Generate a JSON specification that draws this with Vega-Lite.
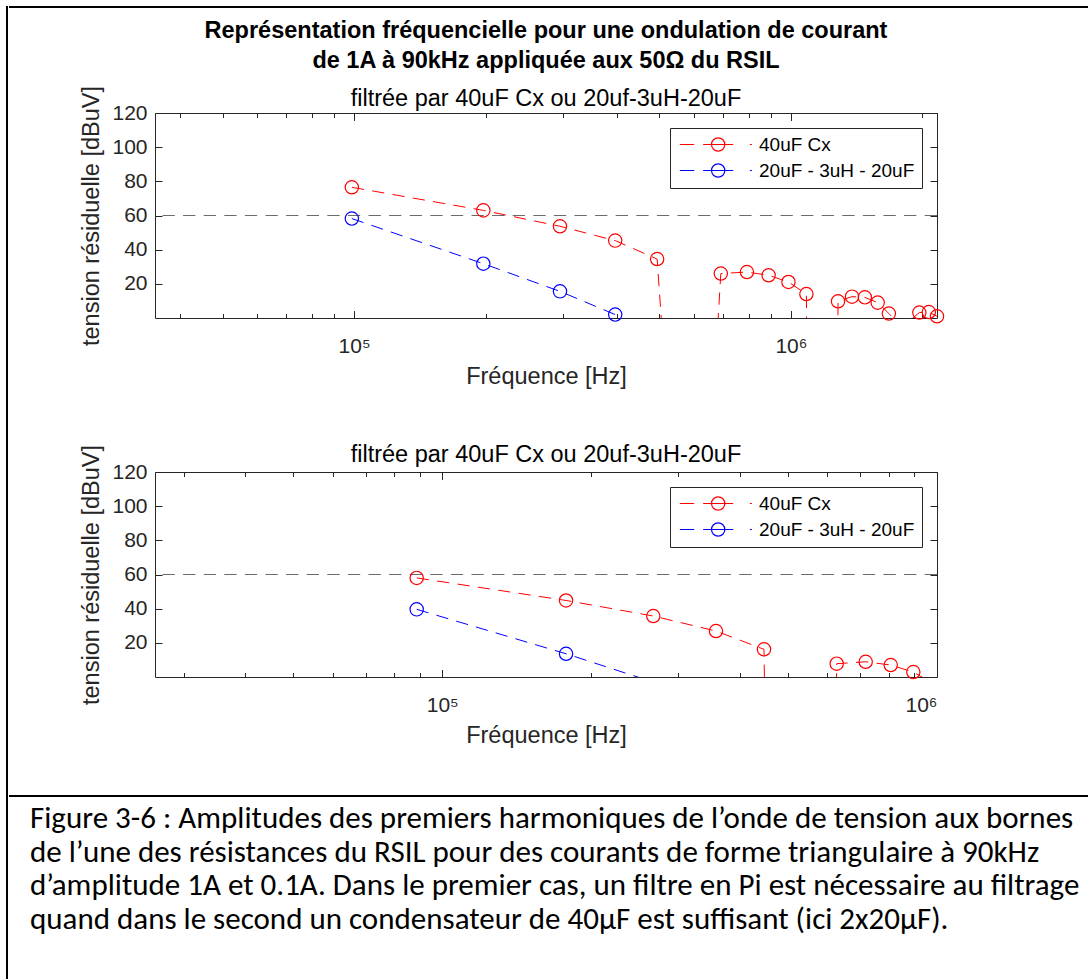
{
  "$schema": "https://vega.github.io/schema/vega-lite/v6.json",
  "background": "white",
  "padding": {"left": 6, "top": 6, "right": 0, "bottom": 0},
  "datasets": {
    "seuil": [{"seuil": 60}],
    "haut": [
      {"serie": "40uF Cx", "f": 98800, "v": 76.5},
      {"serie": "40uF Cx", "f": 197600, "v": 63.0},
      {"serie": "40uF Cx", "f": 296000, "v": 53.7},
      {"serie": "40uF Cx", "f": 396000, "v": 45.3},
      {"serie": "40uF Cx", "f": 494000, "v": 34.5},
      {"serie": "40uF Cx", "f": 594000, "v": -260},
      {"serie": "40uF Cx", "f": 691000, "v": 26.0},
      {"serie": "40uF Cx", "f": 793000, "v": 26.9},
      {"serie": "40uF Cx", "f": 889000, "v": 25.0},
      {"serie": "40uF Cx", "f": 987000, "v": 21.1},
      {"serie": "40uF Cx", "f": 1085000, "v": 14.0},
      {"serie": "40uF Cx", "f": 1188000, "v": -1500},
      {"serie": "40uF Cx", "f": 1282000, "v": 9.8},
      {"serie": "40uF Cx", "f": 1380000, "v": 12.5},
      {"serie": "40uF Cx", "f": 1477000, "v": 12.1},
      {"serie": "40uF Cx", "f": 1580000, "v": 9.0},
      {"serie": "40uF Cx", "f": 1676000, "v": 2.6},
      {"serie": "40uF Cx", "f": 1782000, "v": -5},
      {"serie": "40uF Cx", "f": 1881000, "v": -1},
      {"serie": "40uF Cx", "f": 1968000, "v": 3.2},
      {"serie": "40uF Cx", "f": 2069000, "v": 3.5},
      {"serie": "40uF Cx", "f": 2160000, "v": 1.0},
      {"serie": "20uF - 3uH - 20uF", "f": 98800, "v": 58.2},
      {"serie": "20uF - 3uH - 20uF", "f": 197600, "v": 31.8},
      {"serie": "20uF - 3uH - 20uF", "f": 296000, "v": 15.6},
      {"serie": "20uF - 3uH - 20uF", "f": 396000, "v": 2.0}
    ],
    "bas": [
      {"serie": "40uF Cx", "f": 88770, "v": 58.0},
      {"serie": "40uF Cx", "f": 177900, "v": 44.8},
      {"serie": "40uF Cx", "f": 267000, "v": 35.7},
      {"serie": "40uF Cx", "f": 357500, "v": 26.9},
      {"serie": "40uF Cx", "f": 447000, "v": 16.2},
      {"serie": "40uF Cx", "f": 537000, "v": -1500},
      {"serie": "40uF Cx", "f": 627000, "v": 7.8},
      {"serie": "40uF Cx", "f": 717600, "v": 8.9},
      {"serie": "40uF Cx", "f": 806300, "v": 7.0},
      {"serie": "40uF Cx", "f": 895600, "v": 2.9},
      {"serie": "40uF Cx", "f": 985000, "v": -4},
      {"serie": "20uF - 3uH - 20uF", "f": 88770, "v": 39.6},
      {"serie": "20uF - 3uH - 20uF", "f": 177900, "v": 13.6},
      {"serie": "20uF - 3uH - 20uF", "f": 267000, "v": -3}
    ],
    "legende": [
      {"ligne": 1, "texte": "Figure 3-6 : Amplitudes des premiers harmoniques de l’onde de tension aux bornes"},
      {"ligne": 2, "texte": "de l’une des résistances du RSIL pour des courants de forme triangulaire à 90kHz"},
      {"ligne": 3, "texte": "d’amplitude 1A et 0.1A. Dans le premier cas, un filtre en Pi est nécessaire au filtrage"},
      {"ligne": 4, "texte": "quand dans le second un condensateur de 40µF est suffisant (ici 2x20µF)."}
    ]
  },
  "config": {
    "view": {"stroke": null},
    "font": "Liberation Sans",
    "axis": {
      "grid": false, "domain": false,
      "labelFont": "Liberation Sans", "titleFont": "Liberation Sans",
      "labelColor": "#262626", "titleColor": "#262626", "tickColor": "#262626",
      "tickWidth": 1, "labelFontSize": 21, "titleFontSize": 23.5, "titleFontWeight": "normal"
    },
    "title": {"font": "Liberation Sans", "color": "black", "subtitleFont": "Liberation Sans", "subtitleColor": "black", "frame": "group"}
  },
  "spacing": 0,
  "hconcat": [
    {
      "width": 2, "height": 1000,
      "view": {"fill": "black", "stroke": null},
      "data": {"values": [{}]},
      "mark": {"type": "point", "size": 0, "strokeWidth": 0, "opacity": 0},
      "encoding": {}
    },
    {
      "spacing": 48,
      "vconcat": [
        {
          "spacing": 10,
          "vconcat": [
            {
              "width": 933, "height": 2,
              "data": {"values": [{}]},
              "mark": {"type": "rule", "color": "black", "strokeWidth": 2},
              "encoding": {
                "x": {"datum": -146, "type": "quantitative", "scale": {"domain": [0, 933], "nice": false, "zero": false}, "axis": null},
                "x2": {"datum": 933},
                "y": {"datum": 1, "type": "quantitative", "scale": {"domain": [0, 2], "nice": false}, "axis": null}
              }
            },
            {
              "spacing": 52,
              "resolve": {"scale": {"color": "independent", "stroke": "independent"}, "legend": {"color": "independent", "stroke": "independent"}},
              "vconcat": [
                {
                  "width": 782, "height": 205,
                  "view": {"stroke": "#262626", "strokeWidth": 1},
                  "title": {
                    "text": ["Représentation fréquencielle pour une ondulation de courant", "de 1A à 90kHz appliquée aux 50Ω du RSIL"],
                    "subtitle": "filtrée par 40uF Cx ou 20uf-3uH-20uF",
                    "fontSize": 23.5, "fontWeight": "bold", "lineHeight": 30,
                    "subtitleFontSize": 23.5, "subtitleFontWeight": "normal", "subtitlePadding": 15,
                    "offset": -25, "frame": "group"
                  },
                  "layer": [
                    {
                      "data": {"name": "seuil"},
                      "mark": {"type": "rule", "color": "#6b6b6b", "strokeDash": [12.3, 8.3], "strokeWidth": 1},
                      "encoding": {
                        "y": {"field": "seuil", "type": "quantitative", "scale": {"domain": [0, 120], "nice": false, "zero": false},
                              "axis": {"orient": "right", "values": [20, 40, 60, 80, 100, 120], "labels": false, "tickSize": -7, "title": null, "minExtent": 0, "maxExtent": 0}}
                      }
                    },
                    {
                      "data": {"name": "haut"},
                      "mark": {"type": "line", "clip": true, "strokeDash": [12.3, 8.3], "strokeWidth": 1},
                      "encoding": {
                        "x": {"field": "f", "type": "quantitative", "scale": {"type": "log", "domain": [35000, 2160000], "nice": false},
                              "axis": {"orient": "bottom", "values": [100000, 1000000], "labelExpr": "datum.value == 100000 ? '10⁵' : '10⁶'", "ticks": false, "labelBaseline": "alphabetic", "labelPadding": 34, "title": "Fréquence [Hz]", "titlePadding": 8}},
                        "y": {"field": "v", "type": "quantitative", "scale": {"domain": [0, 120], "nice": false, "zero": false},
                              "axis": {"orient": "left", "values": [20, 40, 60, 80, 100, 120], "ticks": false, "labelPadding": 8, "title": "tension résiduelle [dBuV]", "titlePadding": 8, "minExtent": 0}},
                        "stroke": {"field": "serie", "type": "nominal", "scale": {"domain": ["20uF - 3uH - 20uF", "40uF Cx"], "range": ["#0000ff", "#ff0000"]}, "legend": null}
                      }
                    },
                    {
                      "data": {"name": "haut"},
                      "transform": [{"filter": "datum.v >= 0"}],
                      "mark": {"type": "point", "filled": false, "size": 177, "strokeWidth": 1.2, "opacity": 1, "clip": false},
                      "encoding": {
                        "x": {"field": "f", "type": "quantitative", "scale": {"type": "log", "domain": [35000, 2160000], "nice": false},
                              "axis": {"orient": "bottom", "values": [100000, 1000000], "labels": false, "tickSize": -7.5, "title": null, "minExtent": 0, "maxExtent": 0}},
                        "y": {"field": "v", "type": "quantitative", "scale": {"domain": [0, 120], "nice": false, "zero": false},
                              "axis": {"orient": "left", "values": [20, 40, 60, 80, 100, 120], "labels": false, "tickSize": -7, "title": null, "minExtent": 0, "maxExtent": 0}},
                        "color": {"field": "serie", "type": "nominal", "scale": {"domain": ["40uF Cx", "20uF - 3uH - 20uF"], "range": ["#ff0000", "#0000ff"]},
                          "legend": {"title": null, "orient": "top-right", "offset": 15,
                            "symbolType": "M-1,0H1.15M2.5,0H7.02M9.53,0H9.83M5.76,0A1,1 0 1 1 3.76,0A1,1 0 1 1 5.76,0",
                            "symbolSize": 177, "symbolStrokeWidth": 1.2, "symbolFillColor": "transparent",
                            "labelFont": "Liberation Sans", "labelFontSize": 19, "labelColor": "black", "labelOffset": 63, "labelLimit": 400,
                            "padding": 7, "rowPadding": 6, "strokeColor": "#262626", "fillColor": "white"}}
                      }
                    },
                    {
                      "data": {"name": "haut"},
                      "transform": [{"filter": "datum.v >= 0"}],
                      "mark": {"type": "point", "opacity": 0, "clip": true},
                      "encoding": {
                        "x": {"field": "f", "type": "quantitative", "scale": {"type": "log", "domain": [35000, 2160000], "nice": false},
                              "axis": {"orient": "bottom", "values": [40000, 50000, 60000, 70000, 80000, 90000, 200000, 300000, 400000, 500000, 600000, 700000, 800000, 900000, 2000000], "labels": false, "tickSize": -4.5, "title": null, "minExtent": 0, "maxExtent": 0}},
                        "y": {"field": "v", "type": "quantitative", "scale": {"domain": [0, 120], "nice": false, "zero": false}, "axis": null}
                      }
                    },
                    {
                      "data": {"name": "haut"},
                      "transform": [{"filter": "datum.v >= 0"}],
                      "mark": {"type": "point", "opacity": 0, "clip": true},
                      "encoding": {
                        "x": {"field": "f", "type": "quantitative", "scale": {"type": "log", "domain": [35000, 2160000], "nice": false},
                              "axis": {"orient": "top", "values": [100000, 1000000], "labels": false, "tickSize": -7.5, "title": null, "minExtent": 0, "maxExtent": 0}},
                        "y": {"field": "v", "type": "quantitative", "scale": {"domain": [0, 120], "nice": false, "zero": false}, "axis": null}
                      }
                    },
                    {
                      "data": {"name": "haut"},
                      "transform": [{"filter": "datum.v >= 0"}],
                      "mark": {"type": "point", "opacity": 0, "clip": true},
                      "encoding": {
                        "x": {"field": "f", "type": "quantitative", "scale": {"type": "log", "domain": [35000, 2160000], "nice": false},
                              "axis": {"orient": "top", "values": [40000, 50000, 60000, 70000, 80000, 90000, 200000, 300000, 400000, 500000, 600000, 700000, 800000, 900000, 2000000], "labels": false, "tickSize": -4.5, "title": null, "minExtent": 0, "maxExtent": 0}},
                        "y": {"field": "v", "type": "quantitative", "scale": {"domain": [0, 120], "nice": false, "zero": false}, "axis": null}
                      }
                    }
                  ],
                  "resolve": {"axis": {"x": "independent", "y": "independent"}}
                },
                {
                  "width": 782, "height": 205,
                  "view": {"stroke": "#262626", "strokeWidth": 1},
                  "title": {"text": "filtrée par 40uF Cx ou 20uf-3uH-20uF", "fontSize": 23.5, "fontWeight": "normal", "offset": -25, "frame": "group"},
                  "layer": [
                    {
                      "data": {"name": "seuil"},
                      "mark": {"type": "rule", "color": "#6b6b6b", "strokeDash": [12.3, 8.3], "strokeWidth": 1},
                      "encoding": {
                        "y": {"field": "seuil", "type": "quantitative", "scale": {"domain": [0, 120], "nice": false, "zero": false},
                              "axis": {"orient": "right", "values": [20, 40, 60, 80, 100, 120], "labels": false, "tickSize": -7, "title": null, "minExtent": 0, "maxExtent": 0}}
                      }
                    },
                    {
                      "data": {"name": "bas"},
                      "mark": {"type": "line", "clip": true, "strokeDash": [12.3, 8.3], "strokeWidth": 1},
                      "encoding": {
                        "x": {"field": "f", "type": "quantitative", "scale": {"type": "log", "domain": [26260, 1000000], "nice": false},
                              "axis": {"orient": "bottom", "values": [100000, 1000000], "labelExpr": "datum.value == 100000 ? '10⁵' : '10⁶'", "ticks": false, "labelBaseline": "alphabetic", "labelPadding": 34, "title": "Fréquence [Hz]", "titlePadding": 8}},
                        "y": {"field": "v", "type": "quantitative", "scale": {"domain": [0, 120], "nice": false, "zero": false},
                              "axis": {"orient": "left", "values": [20, 40, 60, 80, 100, 120], "ticks": false, "labelPadding": 8, "title": "tension résiduelle  [dBuV]", "titlePadding": 8, "minExtent": 0}},
                        "stroke": {"field": "serie", "type": "nominal", "scale": {"domain": ["20uF - 3uH - 20uF", "40uF Cx"], "range": ["#0000ff", "#ff0000"]}, "legend": null}
                      }
                    },
                    {
                      "data": {"name": "bas"},
                      "transform": [{"filter": "datum.v >= 0"}],
                      "mark": {"type": "point", "filled": false, "size": 177, "strokeWidth": 1.2, "opacity": 1, "clip": false},
                      "encoding": {
                        "x": {"field": "f", "type": "quantitative", "scale": {"type": "log", "domain": [26260, 1000000], "nice": false},
                              "axis": {"orient": "bottom", "values": [100000, 1000000], "labels": false, "tickSize": -7.5, "title": null, "minExtent": 0, "maxExtent": 0}},
                        "y": {"field": "v", "type": "quantitative", "scale": {"domain": [0, 120], "nice": false, "zero": false},
                              "axis": {"orient": "left", "values": [20, 40, 60, 80, 100, 120], "labels": false, "tickSize": -7, "title": null, "minExtent": 0, "maxExtent": 0}},
                        "color": {"field": "serie", "type": "nominal", "scale": {"domain": ["40uF Cx", "20uF - 3uH - 20uF"], "range": ["#ff0000", "#0000ff"]},
                          "legend": {"title": null, "orient": "top-right", "offset": 15,
                            "symbolType": "M-1,0H1.15M2.5,0H7.02M9.53,0H9.83M5.76,0A1,1 0 1 1 3.76,0A1,1 0 1 1 5.76,0",
                            "symbolSize": 177, "symbolStrokeWidth": 1.2, "symbolFillColor": "transparent",
                            "labelFont": "Liberation Sans", "labelFontSize": 19, "labelColor": "black", "labelOffset": 63, "labelLimit": 400,
                            "padding": 7, "rowPadding": 6, "strokeColor": "#262626", "fillColor": "white"}}
                      }
                    },
                    {
                      "data": {"name": "bas"},
                      "transform": [{"filter": "datum.v >= 0"}],
                      "mark": {"type": "point", "opacity": 0, "clip": true},
                      "encoding": {
                        "x": {"field": "f", "type": "quantitative", "scale": {"type": "log", "domain": [26260, 1000000], "nice": false},
                              "axis": {"orient": "bottom", "values": [30000, 40000, 50000, 60000, 70000, 80000, 90000, 200000, 300000, 400000, 500000, 600000, 700000, 800000, 900000], "labels": false, "tickSize": -4.5, "title": null, "minExtent": 0, "maxExtent": 0}},
                        "y": {"field": "v", "type": "quantitative", "scale": {"domain": [0, 120], "nice": false, "zero": false}, "axis": null}
                      }
                    },
                    {
                      "data": {"name": "bas"},
                      "transform": [{"filter": "datum.v >= 0"}],
                      "mark": {"type": "point", "opacity": 0, "clip": true},
                      "encoding": {
                        "x": {"field": "f", "type": "quantitative", "scale": {"type": "log", "domain": [26260, 1000000], "nice": false},
                              "axis": {"orient": "top", "values": [100000, 1000000], "labels": false, "tickSize": -7.5, "title": null, "minExtent": 0, "maxExtent": 0}},
                        "y": {"field": "v", "type": "quantitative", "scale": {"domain": [0, 120], "nice": false, "zero": false}, "axis": null}
                      }
                    },
                    {
                      "data": {"name": "bas"},
                      "transform": [{"filter": "datum.v >= 0"}],
                      "mark": {"type": "point", "opacity": 0, "clip": true},
                      "encoding": {
                        "x": {"field": "f", "type": "quantitative", "scale": {"type": "log", "domain": [26260, 1000000], "nice": false},
                              "axis": {"orient": "top", "values": [30000, 40000, 50000, 60000, 70000, 80000, 90000, 200000, 300000, 400000, 500000, 600000, 700000, 800000, 900000], "labels": false, "tickSize": -4.5, "title": null, "minExtent": 0, "maxExtent": 0}},
                        "y": {"field": "v", "type": "quantitative", "scale": {"domain": [0, 120], "nice": false, "zero": false}, "axis": null}
                      }
                    }
                  ],
                  "resolve": {"axis": {"x": "independent", "y": "independent"}}
                }
              ]
            }
          ]
        },
        {
          "spacing": 0,
          "vconcat": [
            {
              "width": 933, "height": 2,
              "data": {"values": [{}]},
              "mark": {"type": "rule", "color": "black", "strokeWidth": 2},
              "encoding": {
                "x": {"datum": -146, "type": "quantitative", "scale": {"domain": [0, 933], "nice": false, "zero": false}, "axis": null},
                "x2": {"datum": 933},
                "y": {"datum": 1, "type": "quantitative", "scale": {"domain": [0, 2], "nice": false}, "axis": null}
              }
            },
            {
              "width": 933, "height": 145,
              "data": {"name": "legende"},
              "mark": {"type": "text", "align": "left", "baseline": "middle", "font": "Carlito, 'Liberation Sans Narrow', 'DejaVu Sans Condensed', 'Open Sans', sans-serif", "fontSize": 31, "color": "black"},
              "encoding": {
                "y": {"field": "ligne", "type": "ordinal", "scale": {"domain": [1, 2, 3, 4], "padding": 0.653}, "axis": null},
                "x": {"datum": -125, "type": "quantitative", "scale": {"domain": [0, 933], "nice": false, "zero": false}, "axis": null},
                "text": {"field": "texte"}
              }
            }
          ]
        }
      ]
    }
  ]
}
